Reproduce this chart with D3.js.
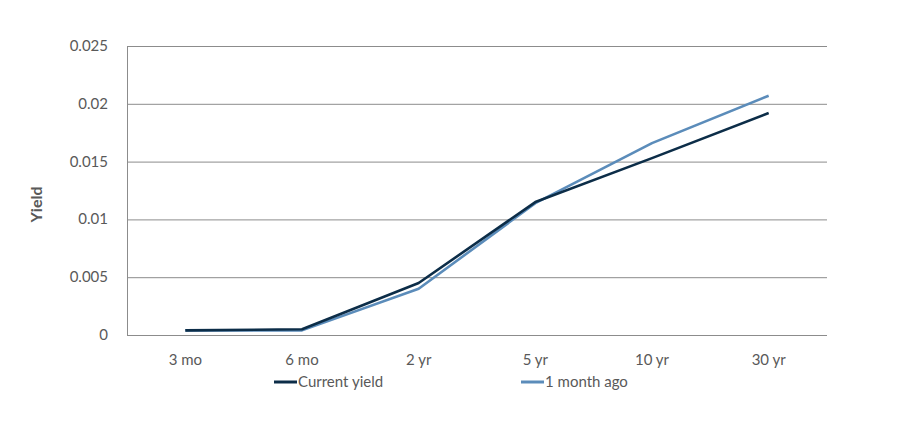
<!DOCTYPE html>
<html>
<head>
<meta charset="utf-8">
<script src="https://cdn.jsdelivr.net/npm/d3@7"></script>
<style>
  body { margin: 0; background: #fff; }
  text { font-family: "Source Sans Pro", Lato, "Open Sans", sans-serif; fill: #595959; }
</style>
</head>
<body>
<div id="chart"></div>
<script>
// maturities and yields
const maturities = ["3 mo", "6 mo", "2 yr", "5 yr", "10 yr", "30 yr"];
const currentYield = [0.0004, 0.0005, 0.0045, 0.0115, 0.0153, 0.0192];
const monthAgoYield = [0.0004, 0.0004, 0.0040, 0.0114, 0.0166, 0.0207];
const yTicks = [0, 0.005, 0.01, 0.015, 0.02, 0.025];
const seriesNames = ["Current yield", "1 month ago"];
const seriesColors = ["#0c2d48", "#5b8cba"];

const width = 919, height = 427;
const margin = { top: 46, right: 92, bottom: 92, left: 127 };

const svg = d3.select("#chart").append("svg")
    .attr("width", width)
    .attr("height", height);

const x = d3.scalePoint()
    .domain(maturities)
    .range([margin.left, width - margin.right])
    .padding(0.5);

const y = d3.scaleLinear()
    .domain([0, 0.025])
    .range([height - margin.bottom, margin.top]);

// gridlines
svg.append("g")
    .selectAll("line")
    .data(yTicks)
    .join("line")
    .attr("x1", margin.left)
    .attr("x2", width - margin.right)
    .attr("y1", d => y(d) + 0.5)
    .attr("y2", d => y(d) + 0.5)
    .attr("stroke", "#8c8c8c")
    .attr("stroke-width", 1);

// left axis line
svg.append("line")
    .attr("x1", margin.left + 0.5)
    .attr("x2", margin.left + 0.5)
    .attr("y1", y(0.025))
    .attr("y2", y(0))
    .attr("stroke", "#8c8c8c");

// y tick labels
svg.append("g")
    .selectAll("text")
    .data(yTicks)
    .join("text")
    .attr("x", margin.left - 19)
    .attr("y", d => y(d) + 5)
    .attr("text-anchor", "end")
    .style("font-size", "15px")
    .text(d => d === 0 ? "0" : String(d));

// x tick labels
svg.append("g")
    .selectAll("text")
    .data(maturities)
    .join("text")
    .attr("x", d => x(d))
    .attr("y", y(0) + 30)
    .attr("text-anchor", "middle")
    .style("font-size", "15px")
    .text(d => d);

// y axis title
svg.append("text")
    .attr("transform", "translate(42," + (margin.top + (height - margin.bottom - margin.top) / 2 + 14) + ") rotate(-90)")
    .attr("text-anchor", "middle")
    .style("font-size", "16px")
    .style("font-weight", "bold")
    .text("Yield");

const line = d3.line()
    .x((d, i) => x(maturities[i]))
    .y(d => y(d));

// draw light series first, dark on top where they meet
[monthAgoYield, currentYield].forEach((vals, k) => {
    const idx = k === 0 ? 1 : 0;
    svg.append("path")
        .datum(vals)
        .attr("d", line)
        .attr("fill", "none")
        .attr("stroke", seriesColors[idx])
        .attr("stroke-width", 2.6)
        .attr("stroke-linejoin", "round");
});

// legend
const legendX = [274, 521];
const legendY = 382;
seriesNames.forEach((name, i) => {
    svg.append("line")
        .attr("x1", legendX[i])
        .attr("x2", legendX[i] + 23)
        .attr("y1", legendY)
        .attr("y2", legendY)
        .attr("stroke", seriesColors[i])
        .attr("stroke-width", 3);
    svg.append("text")
        .attr("x", legendX[i] + 24)
        .attr("y", legendY + 5)
        .style("font-size", "15px")
        .text(name);
});
</script>
</body>
</html>
